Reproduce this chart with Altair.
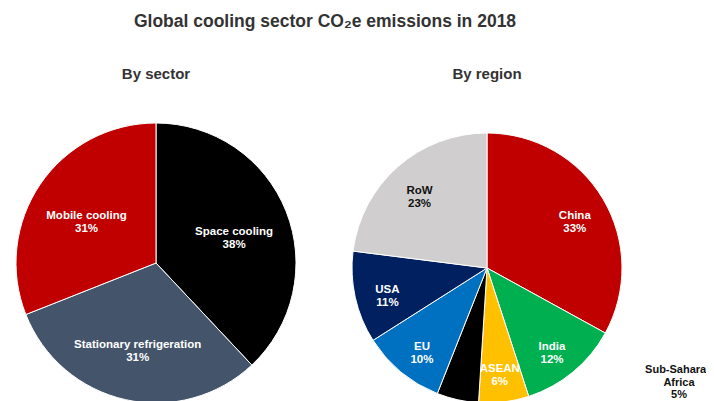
import altair as alt
import pandas as pd

# ---- data ----
sectors = ["Space cooling", "Stationary refrigeration", "Mobile cooling"]
sector_share = [38, 31, 31]
sector_colors = ["#000000", "#44546A", "#C00000"]

regions = ["China", "India", "ASEAN", "Sub-Saharan Africa", "EU", "USA", "RoW"]
region_share = [33, 12, 6, 5, 10, 11, 23]
region_colors = ["#C00000", "#00B050", "#FFC000", "#000000", "#0070C0", "#002060", "#D0CECE"]

title_text = "Global cooling sector CO\u2082e emissions in 2018"
left_title = "By sector"
right_title = "By region"

sdf = pd.DataFrame({"name": sectors, "share": sector_share, "idx": range(len(sectors))})
sdf["label"] = [f"{n}\n{v}%" for n, v in zip(sectors, sector_share)]

rdf = pd.DataFrame({"name": regions, "share": region_share, "idx": range(len(regions))})
rdf["label"] = [("" if n == "Sub-Saharan Africa" else f"{n}\n{v}%") for n, v in zip(regions, region_share)]

FONT = "Liberation Sans"

LCX, LCY, LR = 148, 255, 140
RCX, RCY, RR = 479, 260, 135

left_pie = alt.Chart(sdf).mark_arc(radius=LR, stroke="white", strokeWidth=1).encode(
    theta=alt.Theta("share:Q", stack=True),
    order=alt.Order("idx:Q"),
    color=alt.Color("name:N", scale=alt.Scale(domain=sectors, range=sector_colors), legend=None),
    x=alt.value(LCX), y=alt.value(LCY),
)
left_text = alt.Chart(sdf).mark_text(
    radius=84, font=FONT, fontWeight="bold", fontSize=11.5, lineBreak="\n", lineHeight=13,
    align="center", baseline="middle",
).encode(
    theta=alt.Theta("share:Q", stack=True),
    order=alt.Order("idx:Q"),
    text="label:N",
    color=alt.value("white"),
    x=alt.value(LCX), y=alt.value(LCY),
)

right_pie = alt.Chart(rdf).mark_arc(radius=RR, stroke="white", strokeWidth=1).encode(
    theta=alt.Theta("share:Q", stack=True),
    order=alt.Order("idx:Q"),
    color=alt.Color("name:N", scale=alt.Scale(domain=regions, range=region_colors), legend=None),
    x=alt.value(RCX), y=alt.value(RCY),
)
right_text = alt.Chart(rdf).mark_text(
    radius=102, font=FONT, fontWeight="bold", fontSize=11.5, lineBreak="\n", lineHeight=13,
    align="center", baseline="middle",
).encode(
    theta=alt.Theta("share:Q", stack=True),
    order=alt.Order("idx:Q"),
    text="label:N",
    color=alt.condition(alt.datum.name == "RoW", alt.value("#111111"), alt.value("white")),
    x=alt.value(RCX), y=alt.value(RCY),
)

ssa = rdf[rdf["name"] == "Sub-Saharan Africa"].copy()
ssa["label"] = ["Sub-Saharan\nAfrica\n" + f"{v}%" for v in ssa["share"]]
ssa_text = alt.Chart(ssa).mark_text(
    font=FONT, fontWeight="bold", fontSize=11, lineBreak="\n", lineHeight=12.5,
    align="center", baseline="middle", color="#111111",
).encode(text="label:N", x=alt.value(671), y=alt.value(362))

titles = pd.DataFrame({"t": [title_text]})
main_title = alt.Chart(titles).mark_text(
    font=FONT, fontWeight="bold", fontSize=17.5, color="#333333", align="center", baseline="middle"
).encode(text="t:N", x=alt.value(317), y=alt.value(14))

sub_l = alt.Chart(pd.DataFrame({"t": [left_title]})).mark_text(
    font=FONT, fontWeight="bold", fontSize=15, color="#333333", align="center", baseline="middle"
).encode(text="t:N", x=alt.value(LCX), y=alt.value(66))
sub_r = alt.Chart(pd.DataFrame({"t": [right_title]})).mark_text(
    font=FONT, fontWeight="bold", fontSize=15, color="#333333", align="center", baseline="middle"
).encode(text="t:N", x=alt.value(RCX), y=alt.value(66))

chart = alt.layer(
    left_pie, left_text, right_pie, right_text, ssa_text, main_title, sub_l, sub_r
).resolve_scale(color="independent", theta="independent").properties(
    width=698, height=393, padding=0, autosize=alt.AutoSizeParams(type="none")
).configure(
    background="white", view=alt.ViewConfig(stroke="transparent", strokeWidth=0)
)

chart.save("out.html", embed_options={"renderer": "svg", "actions": False})
